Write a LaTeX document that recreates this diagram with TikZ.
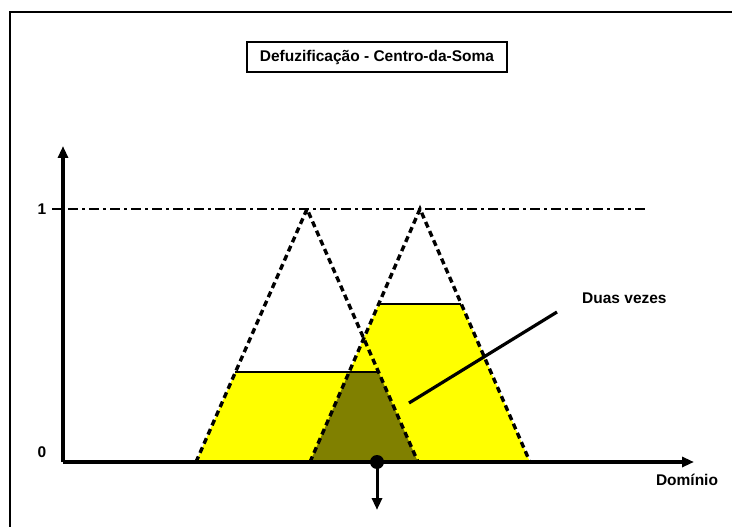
\documentclass[tikz,border=0pt]{standalone}
\usepackage{fontspec}
\setmainfont{Liberation Sans}
\usetikzlibrary{calc,arrows.meta}
\definecolor{yel}{HTML}{FFFF00}
\definecolor{oliv}{HTML}{808000}
\tikzset{
  axisline/.style={line width=3.6pt,-{Triangle[length=12pt,width=10pt]}},
  triline/.style={line width=3.4pt,dash pattern=on 6pt off 4pt},
  capline/.style={line width=2.6pt},
  lbl/.style={font=\bfseries\fontsize{15.5}{18}\selectfont,inner sep=0pt},
}
\begin{document}
\begin{tikzpicture}[x=1pt,y=-1pt]
\useasboundingbox (0,0) rectangle (732,527);
% frame
\draw[line width=2.2pt] (10,527) -- (10,12) -- (732,12);
% points
\coordinate (L1) at (196,462);
\coordinate (A1) at (307,209);
\coordinate (R1) at (418,462);
\coordinate (L2) at (310,462);
\coordinate (A2) at (420,209);
\coordinate (R2) at (530,462);
\coordinate (P1) at ($(L1)!0.355!(A1)$);
\coordinate (Q1) at ($(R1)!0.355!(A1)$);
\coordinate (P2) at ($(L2)!0.625!(A2)$);
\coordinate (Q2) at ($(R2)!0.625!(A2)$);
\coordinate (M) at ($(L2)!0.355!(A2)$);
% fills
\fill[yel] (L1) -- (P1) -- (Q1) -- (R1) -- cycle;
\fill[yel] (L2) -- (P2) -- (Q2) -- (R2) -- cycle;
\fill[oliv] (L2) -- (M) -- (Q1) -- (R1) -- cycle;
% cut lines
\draw[capline] (P1) -- (Q1);
\draw[capline] (P2) -- (Q2);
% triangles
\draw[triline] (L1) -- (A1) -- (R1);
\draw[triline] (L2) -- (A2) -- (R2);
% level 1
\coordinate (T0) at (52,209);
\coordinate (T1) at (63,209);
\coordinate (T2) at (68,209);
\coordinate (T3) at (646,209);
\draw[line width=2.6pt] (T0) -- (T1);
\draw[line width=2.6pt,dash pattern=on 10pt off 4pt on 3pt off 4pt] (T2) -- (T3);
% axes
\coordinate (O) at (63,462);
\coordinate (YT) at (63,146);
\coordinate (XT) at (694,462);
\draw[axisline] (O) -- (YT);
\draw[axisline] (O) -- (XT);
% labels
\node[lbl] (one) at (42,209) {1};
\node[lbl] (zero) at (42,452) {0};
\node[lbl,anchor=north] (dom) at (687,474) {Domínio};
% title
\node[lbl,draw,line width=2.2pt,minimum width=260pt,minimum height=30pt] (title) at (377,57) {Defuzificação - Centro-da-Soma};
% pointer
\node[lbl,anchor=west] (duas) at (582,298) {Duas vezes};
\coordinate (PA) at (409,403);
\coordinate (PB) at (557,312);
\draw[line width=3.2pt] (PA) -- (PB);
% centroid
\coordinate (C) at (377,462);
\coordinate (CD) at (377,510);
\draw[line width=3pt,-{Triangle[length=12pt,width=10pt]}] (C) -- (CD);
\fill (C) circle (7pt);
\end{tikzpicture}
\end{document}
